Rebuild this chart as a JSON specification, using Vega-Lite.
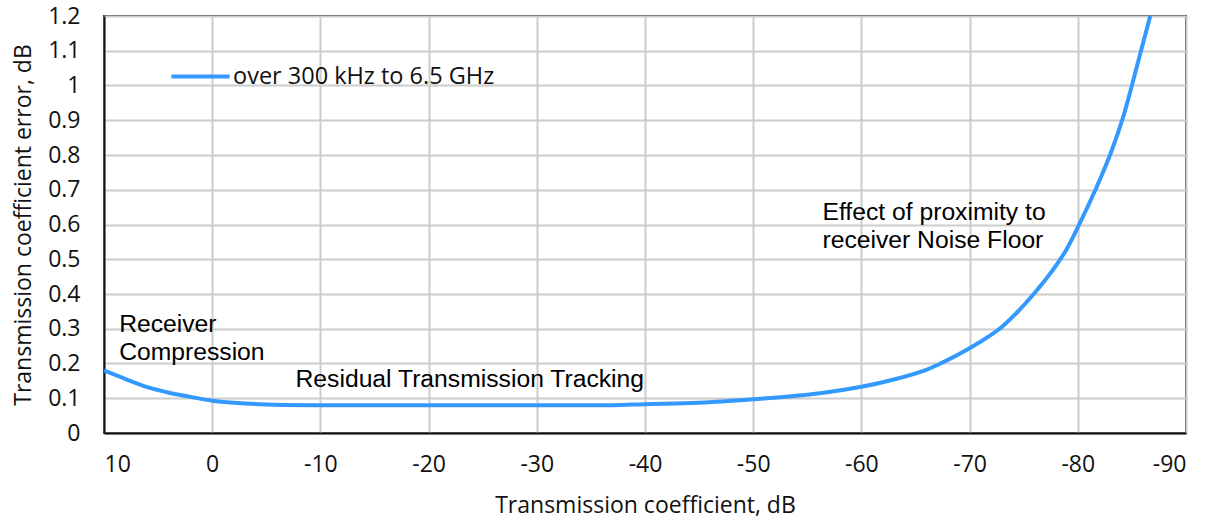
{
  "$schema": "https://vega.github.io/schema/vega-lite/v6.json",
  "width": 1082,
  "height": 417,
  "autosize": "none",
  "padding": {"left": 104, "top": 16, "right": 28, "bottom": 90},
  "background": "white",
  "config": {
    "view": {"stroke": "#333", "strokeWidth": 2},
    "font": "Open Sans",
    "axis": {
      "gridColor": "#cccccc",
      "gridWidth": 2,
      "domainColor": "#111",
      "domainWidth": 2,
      "ticks": false,
      "labelFont": "Open Sans",
      "labelFontSize": 23,
      "labelColor": "#111",
      "labelOverlap": false,
      "titleFont": "Open Sans",
      "titleFontSize": 23,
      "titleFontWeight": "normal",
      "titleColor": "#111"
    }
  },
  "datasets": {
    "curve": [
      {"tc": 10, "err": 0.18},
      {"tc": 8, "err": 0.155},
      {"tc": 6, "err": 0.132},
      {"tc": 4, "err": 0.116},
      {"tc": 2, "err": 0.104},
      {"tc": 0, "err": 0.093},
      {"tc": -2, "err": 0.087},
      {"tc": -5, "err": 0.082},
      {"tc": -10, "err": 0.08},
      {"tc": -20, "err": 0.08},
      {"tc": -30, "err": 0.08},
      {"tc": -37, "err": 0.08},
      {"tc": -40, "err": 0.083},
      {"tc": -45, "err": 0.087},
      {"tc": -50, "err": 0.097},
      {"tc": -55, "err": 0.11},
      {"tc": -60, "err": 0.133},
      {"tc": -63, "err": 0.154},
      {"tc": -66, "err": 0.182},
      {"tc": -67.3, "err": 0.2},
      {"tc": -70, "err": 0.244},
      {"tc": -73, "err": 0.306},
      {"tc": -76.2, "err": 0.41},
      {"tc": -78.7, "err": 0.515},
      {"tc": -80.2, "err": 0.605},
      {"tc": -81.7, "err": 0.705},
      {"tc": -83.1, "err": 0.81},
      {"tc": -84.2, "err": 0.91},
      {"tc": -85.0, "err": 1.0},
      {"tc": -85.8, "err": 1.095},
      {"tc": -86.7, "err": 1.2}
    ],
    "notes": [
      {"tc": 8.6, "err": 0.29, "label": ["Receiver", "Compression"]},
      {"tc": -7.7, "err": 0.133, "label": ["Residual Transmission Tracking"]},
      {"tc": -56.4, "err": 0.614, "label": ["Effect of proximity to", "receiver Noise Floor"]}
    ]
  },
  "encoding": {
    "x": {
      "field": "tc", "type": "quantitative",
      "scale": {"domain": [10, -90], "nice": false, "zero": false},
      "axis": {"values": [10, 0, -10, -20, -30, -40, -50, -60, -70, -80, -90], "labelExpr": "datum.value + ''", "title": "Transmission coefficient, dB", "labelPadding": 20, "titlePadding": 18}
    },
    "y": {
      "field": "err", "type": "quantitative",
      "scale": {"domain": [0, 1.2], "nice": false},
      "axis": {"values": [0, 0.1, 0.2, 0.3, 0.4, 0.5, 0.6, 0.7, 0.8, 0.9, 1, 1.1, 1.2], "format": "~g", "title": "Transmission coefficient error, dB", "labelPadding": 24, "titlePadding": 12}
    }
  },
  "layer": [
    {
      "data": {"name": "curve"},
      "mark": {"type": "line", "strokeWidth": 4, "clip": true, "interpolate": "catmull-rom"},
      "encoding": {
        "color": {
          "datum": "over 300 kHz to 6.5 GHz",
          "type": "nominal",
          "scale": {"range": ["#3399ff"]},
          "legend": {
            "title": null,
            "orient": "none",
            "legendX": 65,
            "legendY": 29,
            "symbolType": "stroke",
            "symbolStrokeWidth": 4,
            "symbolSize": 3400,
            "labelFont": "Open Sans",
            "labelFontSize": 23.5,
            "labelColor": "#111",
            "labelLimit": 0,
            "labelOffset": 1
          }
        }
      }
    },
    {
      "data": {"name": "notes"},
      "mark": {"type": "text", "align": "left", "baseline": "alphabetic", "font": "Liberation Sans", "fontSize": 24.7, "lineHeight": 28, "color": "#000"},
      "encoding": {
        "text": {"field": "label"}
      }
    }
  ]
}
